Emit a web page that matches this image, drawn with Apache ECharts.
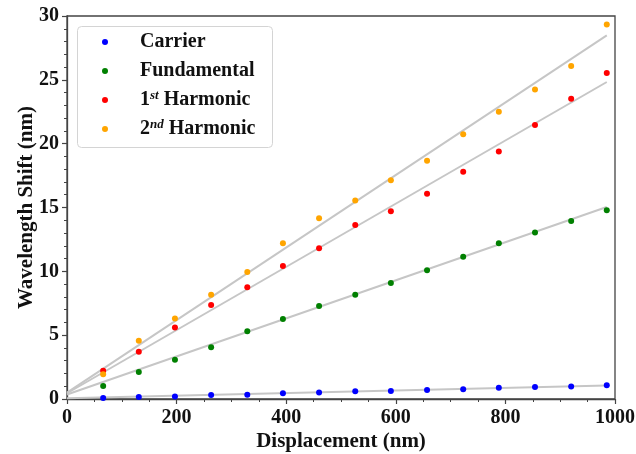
<!DOCTYPE html>
<html>
<head>
<meta charset="utf-8">
<script src="https://cdn.jsdelivr.net/npm/echarts@6/dist/echarts.min.js"></script>
<style>html,body{margin:0;padding:0;background:#fff}#c{width:636px;height:454px}</style>
</head>
<body>
<div id="c"></div>
<script>
// Displacement (nm)
var displacement = [66,131,197,263,329,394,460,526,591,657,723,788,854,920,985];
// Wavelength shift (nm)
var carrier     = [0.08,0.16,0.19,0.31,0.34,0.45,0.50,0.60,0.63,0.70,0.76,0.89,0.94,0.97,1.07];
var fundamental = [1.02,2.11,3.08,4.05,5.30,6.27,7.28,8.17,9.08,10.08,11.15,12.19,13.05,13.94,14.78];
var harmonic1   = [2.22,3.71,5.61,7.37,8.75,10.42,11.80,13.63,14.70,16.08,17.81,19.38,21.46,23.52,25.53];
var harmonic2   = [1.93,4.57,6.30,8.17,9.95,12.19,14.15,15.54,17.13,18.67,20.73,22.50,24.25,26.08,29.34];
// linear fit end points (x = 0 and x = 985)
var fitX            = [0, 985];
var fitCarrier      = [0.05, 1.05];
var fitFundamental  = [0.35, 15.04];
var fitHarmonic1    = [0.45, 24.83];
var fitHarmonic2    = [0.50, 28.48];

var names = ['Carrier','Fundamental','1st Harmonic','2nd Harmonic'];
var colors = ['#0000ff','#008000','#ff0000','#ffa500'];
var xTicks = [0,200,400,600,800,1000];
var yTicks = [0,5,10,15,20,25,30];

var FONT = '"Liberation Serif", "DejaVu Serif", serif';
function pairs(xs, ys){ return xs.map(function(x,i){ return [x, ys[i]]; }); }

var chart = echarts.init(document.getElementById('c'), null, {renderer:'canvas'});
var pointSets = [carrier, fundamental, harmonic1, harmonic2];
var fitSets = [fitCarrier, fitFundamental, fitHarmonic1, fitHarmonic2];
var series = [];
fitSets.forEach(function(f, i){
  series.push({
    name: 'fit' + i, type: 'line', data: pairs(fitX, f), showSymbol: false, silent: true,
    lineStyle: {color: '#c6c6c6', width: 2}, z: 2
  });
});
pointSets.forEach(function(s, i){
  series.push({
    name: names[i], type: 'scatter', data: pairs(displacement, s), symbolSize: 6,
    itemStyle: {color: colors[i], opacity: 1}, z: 3 + i
  });
});

var axisColor = '#444';
chart.setOption({
  animation: false,
  grid: {left: 67, right: 21, top: 16, bottom: 55, show: true, borderColor: axisColor, borderWidth: 1.3,
    backgroundColor: 'transparent', containLabel: false, outerBoundsMode: 'none'},
  graphic: [{
    type: 'rect', left: 77, top: 26, z: 1,
    shape: {width: 195, height: 121, r: 4},
    style: {fill: '#fff', stroke: '#d4d4d4', lineWidth: 1}
  }],
  legend: {
    data: names, orient: 'vertical', left: 102, top: 31, padding: 0,
    itemWidth: 6, itemHeight: 6, itemGap: 7, icon: 'circle', z: 10,
    textStyle: {fontFamily: FONT, fontWeight: 'bold', fontSize: 20, lineHeight: 22, color: '#111',
      padding: [0,0,0,27],
      rich: {
        sup: {fontFamily: FONT, fontWeight: 'bold', fontStyle: 'italic', fontSize: 13, color: '#111', verticalAlign: 'top', lineHeight: 22}
      }
    },
    formatter: function(n){
      if (n === '1st Harmonic') return '1{sup|st} Harmonic';
      if (n === '2nd Harmonic') return '2{sup|nd} Harmonic';
      return n;
    }
  },
  xAxis: {
    type: 'value', min: 0, max: 1000, interval: 200,
    name: 'Displacement (nm)', nameLocation: 'middle', nameGap: 32, nameMoveOverlap: false,
    nameTextStyle: {fontFamily: FONT, fontWeight: 'bold', fontSize: 21, color: '#111'},
    axisLine: {lineStyle: {color: axisColor, width: 1.3}},
    axisTick: {show: true, length: 5, lineStyle: {color: axisColor, width: 1.2}},
    minorTick: {show: true, splitNumber: 4, length: 3, lineStyle: {color: axisColor, width: 1}},
    splitLine: {show: false},
    axisLabel: {margin: 9, fontFamily: FONT, fontWeight: 'bold', fontSize: 20, color: '#111',
      formatter: function(v){ return xTicks.indexOf(v) >= 0 ? String(v) : ''; }}
  },
  yAxis: {
    type: 'value', min: 0, max: 30, interval: 5,
    name: 'Wavelength Shift (nm)', nameLocation: 'middle', nameGap: 30, nameMoveOverlap: false,
    nameTextStyle: {fontFamily: FONT, fontWeight: 'bold', fontSize: 21, color: '#111'},
    axisLine: {show: true, lineStyle: {color: axisColor, width: 1.3}},
    axisTick: {show: true, length: 5, lineStyle: {color: axisColor, width: 1.2}},
    minorTick: {show: true, splitNumber: 5, length: 3, lineStyle: {color: axisColor, width: 1}},
    splitLine: {show: false},
    axisLabel: {margin: 8, fontFamily: FONT, fontWeight: 'bold', fontSize: 20, color: '#111',
      formatter: function(v){ return yTicks.indexOf(v) >= 0 ? String(v) : ''; }}
  },
  series: series
});
</script>
</body>
</html>
